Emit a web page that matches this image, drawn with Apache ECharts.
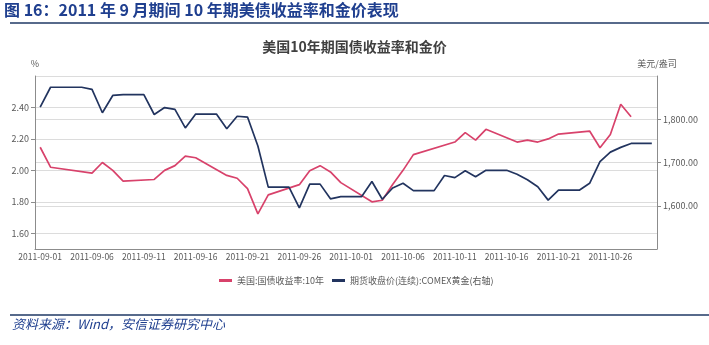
<!DOCTYPE html>
<html><head><meta charset="utf-8">
<script src="https://cdn.jsdelivr.net/npm/echarts@6/dist/echarts.min.js"></script>
<style>html,body{margin:0;padding:0;background:#fff}#c{width:709px;height:345px}</style>
</head><body><div id="c"></div>
<script>
var dates = ['2011-09-01','2011-09-02','2011-09-03','2011-09-04','2011-09-05','2011-09-06','2011-09-07','2011-09-08','2011-09-09','2011-09-10',
'2011-09-11','2011-09-12','2011-09-13','2011-09-14','2011-09-15','2011-09-16','2011-09-17','2011-09-18','2011-09-19','2011-09-20',
'2011-09-21','2011-09-22','2011-09-23','2011-09-24','2011-09-25','2011-09-26','2011-09-27','2011-09-28','2011-09-29','2011-09-30',
'2011-10-01','2011-10-02','2011-10-03','2011-10-04','2011-10-05','2011-10-06','2011-10-07','2011-10-08','2011-10-09','2011-10-10',
'2011-10-11','2011-10-12','2011-10-13','2011-10-14','2011-10-15','2011-10-16','2011-10-17','2011-10-18','2011-10-19','2011-10-20',
'2011-10-21','2011-10-22','2011-10-23','2011-10-24','2011-10-25','2011-10-26','2011-10-27','2011-10-28','2011-10-29','2011-10-30'];

var yield10 = [2.147,2.02,null,null,null,1.982,2.05,2.0,1.932,null,
null,1.942,2.0,2.03,2.09,2.08,null,null,1.968,1.95,
1.884,1.723,1.844,null,null,1.909,1.998,2.03,1.99,1.922,
null,null,1.80,1.81,1.91,2.0,2.10,null,null,null,
2.18,2.24,2.192,2.261,null,null,2.18,2.192,2.18,2.20,
2.231,null,null,2.25,2.144,2.228,2.42,2.341,null,null];

var gold = [1828,1874,1874,1874,1874,1869,1815,1855,1857,1857,
1857,1811,1827,1823,1780,1812,1812,1812,1778,1807,
1805,1738,1643,1643,1643,1595,1650,1650,1616,1621,
1621,1621,1656,1615,1641,1652,1635,1635,1635,1670,
1665,1681,1667,1682,1682,1682,1673,1660,1644,1613,
1636,1636,1636,1652,1702,1724,1735,1744,1744,1744];

var seriesNames = ['美国:国债收益率:10年','期货收盘价(连续):COMEX黄金(右轴)'];
var colors = ['#d8426b','#22345f'];

var chart = echarts.init(document.getElementById('c'));
var labelEvery5 = function(i){ return i % 5 === 0; };
chart.setOption({
  animation:false,
  textStyle:{fontFamily:'"Noto Sans CJK SC","Noto Sans",sans-serif'},
  title:{text:'美国10年期国债收益率和金价',left:'center',top:35,
    textStyle:{fontSize:14,fontWeight:'bold',color:'#404040',fontFamily:'"Noto Sans CJK SC",sans-serif'}},
  graphic:[
    {type:'text',left:4,top:2,style:{text:'图 16：2011 年 9 月期间 10 年期美债收益率和金价表现',
      font:'bold 16px "Noto Sans CJK SC", sans-serif',fill:'#1f3f8f'}},
    {type:'line',shape:{x1:10,y1:23,x2:709,y2:23},style:{stroke:'#1f3864',lineWidth:1.5}},
    {type:'line',shape:{x1:10,y1:315,x2:709,y2:315},style:{stroke:'#1f3864',lineWidth:1.5}},
    {type:'text',left:12,top:318,style:{text:'资料来源：Wind，安信证券研究中心',
      font:'italic 13px "Noto Sans CJK SC", sans-serif',fill:'#1f3f8f'}}
  ],
  legend:{left:214,top:271,itemWidth:13,itemHeight:3,itemGap:8,icon:'rect',
    textStyle:{fontSize:9,color:'#595959'},data:seriesNames},
  grid:{left:35,right:52,top:76,bottom:96},
  xAxis:{type:'category',data:dates,boundaryGap:true,
    axisLine:{lineStyle:{color:'#8c8c8c'}},
    axisTick:{alignWithLabel:true,interval:labelEvery5,length:3,lineStyle:{color:'#8c8c8c'}},
    axisLabel:{interval:labelEvery5,fontSize:8.5,color:'#595959',margin:4}},
  yAxis:[
    {type:'value',min:1.5,max:2.6,splitNumber:5,name:'%',nameGap:8,
     nameTextStyle:{fontSize:9,color:'#595959'},
     axisLine:{show:true,lineStyle:{color:'#8c8c8c'}},
     axisTick:{show:true,length:4,lineStyle:{color:'#8c8c8c'}},
     axisLabel:{fontSize:9,color:'#595959',margin:6,showMinLabel:false,showMaxLabel:false,
       formatter:function(v){return v.toFixed(2);}},
     splitLine:{lineStyle:{color:'#dcdcdc'}}},
    {type:'value',min:1500,max:1900,interval:100,name:'美元/盎司',nameGap:8,
     nameTextStyle:{fontSize:9,color:'#595959'},
     axisLine:{show:true,lineStyle:{color:'#8c8c8c'}},
     axisTick:{show:true,length:4,lineStyle:{color:'#8c8c8c'}},
     axisLabel:{fontSize:9,color:'#595959',margin:6,showMinLabel:false,showMaxLabel:false,
       formatter:function(v){return v.toLocaleString('en-US',{minimumFractionDigits:2,maximumFractionDigits:2});}},
     splitLine:{lineStyle:{color:'#dcdcdc'}}}
  ],
  series:[
    {name:seriesNames[0],type:'line',yAxisIndex:0,data:yield10,connectNulls:true,showSymbol:false,
     lineStyle:{width:1.7,color:colors[0]},itemStyle:{color:colors[0]}},
    {name:seriesNames[1],type:'line',yAxisIndex:1,data:gold,connectNulls:true,showSymbol:false,
     lineStyle:{width:1.7,color:colors[1]},itemStyle:{color:colors[1]}}
  ]
});
</script></body></html>
